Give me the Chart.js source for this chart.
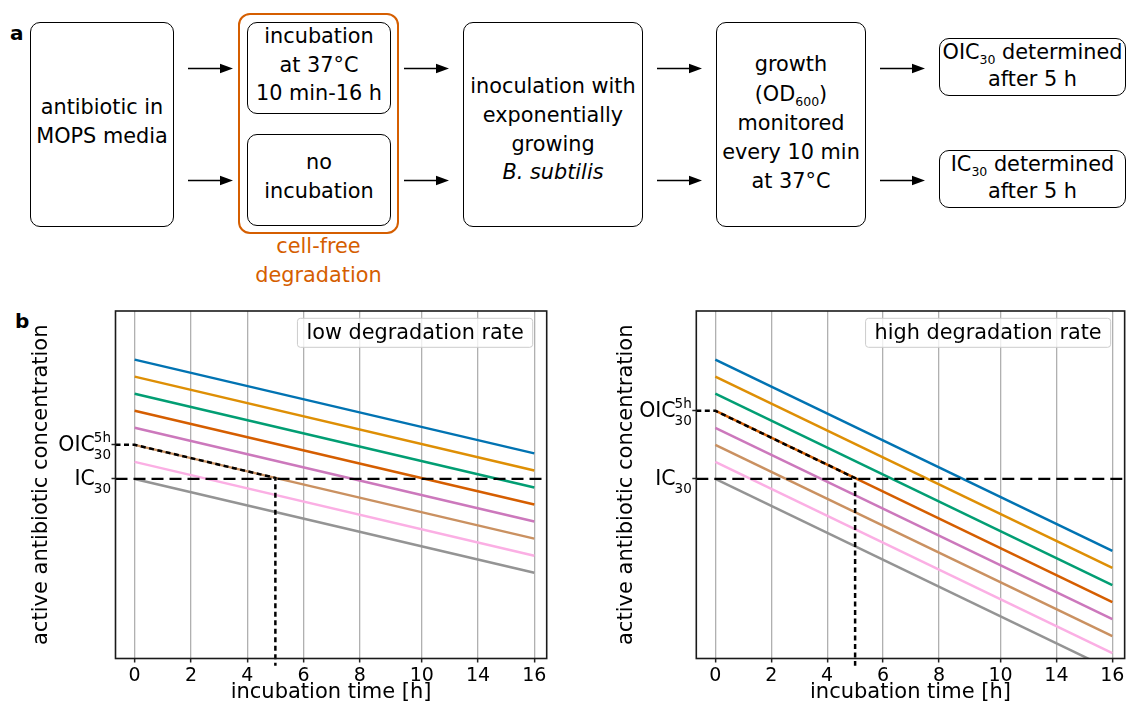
<!DOCTYPE html>
<html>
<head>
<meta charset="utf-8">
<script src="https://cdn.jsdelivr.net/npm/chart.js@4.4.1/dist/chart.umd.min.js"></script>
<style>
  html, body { margin: 0; padding: 0; background: #fff; }
  #page { position: relative; width: 1127px; height: 707px; overflow: hidden; background: #fff;
          font-family: 'DejaVu Sans', sans-serif; color: #000; }
  .box { position: absolute; box-sizing: border-box; border: 1.5px solid #000; border-radius: 10px;
         display: flex; align-items: center; justify-content: center; text-align: center;
         font-size: 20.8px; line-height: 28.7px; white-space: nowrap; padding-bottom: 6px; }
  .box sub { font-size: 12.5px; line-height: 0; vertical-align: -5px; }
  .frame { position: absolute; box-sizing: border-box; border: 2.3px solid #D55E00; border-radius: 12px; }
  .caption { position: absolute; text-align: center; color: #D55E00; font-size: 20.8px; line-height: 28.5px; white-space: nowrap; }
  .letter { position: absolute; font-weight: bold; font-size: 20px; line-height: 20px; }
  canvas { position: absolute; }
</style>
</head>
<body>
<div id="page">
  <!-- panel a: workflow -->
  <div class="letter" style="left:10px;top:23px">a</div>
  <div class="box" style="left:30px;top:22px;width:144px;height:205px"><div>antibiotic in<br>MOPS media</div></div>
  <div class="frame" style="left:238px;top:13px;width:161px;height:221px"></div>
  <div class="box" style="left:247px;top:22px;width:144px;height:92px"><div>incubation<br>at 37°C<br>10 min-16 h</div></div>
  <div class="box" style="left:247px;top:134px;width:144px;height:92px"><div>no<br>incubation</div></div>
  <div class="caption" style="left:238px;top:232px;width:161px">cell-free<br>degradation</div>
  <div class="box" style="left:463px;top:22px;width:180px;height:205px;padding-bottom:0;padding-top:10px"><div>inoculation with<br>exponentially<br>growing<br><i>B. subtilis</i></div></div>
  <div class="box" style="left:716px;top:22px;width:150px;height:205px;line-height:29.2px;padding-bottom:2px"><div>growth<br>(OD<sub>600</sub>)<br>monitored<br>every 10 min<br>at 37°C</div></div>
  <div class="box" style="left:939px;top:38px;width:187px;height:58px;padding-bottom:2px;line-height:27px"><div>OIC<sub>30</sub> determined<br>after 5 h</div></div>
  <div class="box" style="left:939px;top:150px;width:187px;height:58px;padding-bottom:2px;line-height:27px"><div>IC<sub>30</sub> determined<br>after 5 h</div></div>
  <svg id="arrows" width="1127" height="240" style="position:absolute;left:0;top:0"></svg>

  <!-- panel b: degradation sketches -->
  <div class="letter" style="left:15px;top:311px">b</div>
  <canvas id="lowRate" width="560" height="407" style="left:0;top:300px"></canvas>
  <canvas id="highRate" width="567" height="407" style="left:560px;top:300px"></canvas>
</div>

<script>
// ---- data ----
const timeTickLabels = ['0', '2', '4', '6', '8', '10', '14', '16'];
const timeTickValues = [0, 2, 4, 6, 8, 10.2, 12.2, 14.2];
const seriesColors = ['#0173B2', '#DE8F05', '#029E73', '#D55E00', '#CC78BC', '#CA9161', '#FBAFE4', '#949494'];
const startLevels = [17, 16, 15, 14, 13, 12, 11, 10];
const lowRateEndLevels = [11.5, 10.5, 9.5, 8.5, 7.5, 6.5, 5.5, 4.5];
const highRateEndLevels = [5.78, 4.78, 3.78, 2.78, 1.78, 0.78, -0.22, -1.22];
const ic30Level = 10;
const readoutTime = 5;
const lowRateOicSeries = 5;
const highRateOicSeries = 3;
const xLimits = [-0.68, 14.64];
const yLimits = [-0.53, 19.85];

// ---- workflow arrows ----
(function drawArrows() {
  const svg = document.getElementById('arrows');
  const rows = [68.5, 180.5];
  const spans = [[188, 233], [404, 449], [657, 702], [880, 925]];
  let html = '';
  rows.forEach(y => spans.forEach(([x1, x2]) => {
    html += `<line x1="${x1}" y1="${y}" x2="${x2 - 10}" y2="${y}" stroke="#000" stroke-width="1.6"/>`;
    html += `<polygon points="${x2},${y} ${x2 - 13},${y - 4.7} ${x2 - 13},${y + 4.7}" fill="#000"/>`;
  }));
  svg.innerHTML = html;
})();

// ---- chart decoration: spines, math tick labels, text box ----
function drawMathLabel(ctx, xr, y, main, sup, sub) {
  ctx.save();
  ctx.fillStyle = '#000';
  ctx.textBaseline = 'alphabetic';
  ctx.font = '13.5px "DejaVu Sans"';
  const wSup = sup ? ctx.measureText(sup).width : 0;
  const wSub = ctx.measureText(sub).width;
  const sx = xr - Math.max(wSup, wSub);
  ctx.textAlign = 'left';
  if (sup) ctx.fillText(sup, sx, y - 3);
  ctx.fillText(sub, sx, y + 14);
  ctx.font = '20.5px "DejaVu Sans"';
  ctx.textAlign = 'right';
  ctx.fillText(main, sx + 1, y + 6.5);
  ctx.restore();
}

const panelDecor = {
  id: 'panelDecor',
  afterDraw(chart, args, opts) {
    const { ctx, chartArea: ca, scales } = chart;
    // frame
    ctx.save();
    ctx.strokeStyle = '#1a1a1a';
    ctx.lineWidth = 1.6;
    ctx.strokeRect(ca.left, ca.top, ca.right - ca.left, ca.bottom - ca.top);
    ctx.restore();
    // y tick labels
    const xr = ca.left - 4.5;
    drawMathLabel(ctx, xr, scales.y.getPixelForValue(opts.oicLevel), 'OIC', '5h', '30');
    drawMathLabel(ctx, xr, scales.y.getPixelForValue(ic30Level), 'IC', null, '30');
    // text box in the upper right corner
    ctx.save();
    ctx.font = '20.8px "DejaVu Sans"';
    const tw = ctx.measureText(opts.boxText).width;
    const padX = 9, h = 29;
    const right = ca.right - 14;
    const left = right - tw - 2 * padX;
    const top = ca.top + 7.3;
    ctx.beginPath();
    ctx.roundRect(left, top, right - left, h, 3);
    ctx.fillStyle = 'rgba(255,255,255,0.8)';
    ctx.fill();
    ctx.strokeStyle = '#cccccc';
    ctx.lineWidth = 1;
    ctx.stroke();
    ctx.fillStyle = '#000';
    ctx.textBaseline = 'middle';
    ctx.textAlign = 'left';
    ctx.fillText(opts.boxText, left + padX, top + h / 2 + 1);
    ctx.restore();
  }
};

Chart.defaults.font.family = "'DejaVu Sans', sans-serif";
Chart.defaults.color = '#000';

function buildPanel(canvasId, endLevels, oicSeries, boxText, yAxisWidth, yTitlePad, padRight) {
  const tEnd = timeTickValues[timeTickValues.length - 1];
  const datasets = startLevels.map((s, i) => ({
    data: [{ x: 0, y: s }, { x: tEnd, y: endLevels[i] }],
    borderColor: seriesColors[i],
    borderWidth: 2.5,
    pointRadius: 0,
    order: 3
  }));
  const oicLevel = startLevels[oicSeries];
  const levelAtReadout = oicLevel + (endLevels[oicSeries] - oicLevel) * readoutTime / tEnd;
  datasets.push({
    data: [{ x: xLimits[0], y: ic30Level }, { x: xLimits[1], y: ic30Level }],
    borderColor: '#000', borderWidth: 2.3, borderDash: [12, 6], pointRadius: 0, order: 2
  });
  datasets.push({
    data: [{ x: xLimits[0], y: oicLevel }, { x: 0, y: oicLevel },
           { x: readoutTime, y: levelAtReadout }, { x: readoutTime, y: yLimits[0] - 0.42 }],
    borderColor: '#000', borderWidth: 2.5, borderDash: [5, 3.5], pointRadius: 0, order: 1,
    clip: { left: 0, top: 0, right: 0, bottom: 10 }
  });

  return new Chart(document.getElementById(canvasId), {
    type: 'line',
    data: { datasets },
    plugins: [panelDecor],
    options: {
      responsive: false,
      animation: false,
      devicePixelRatio: 1,
      layout: { padding: { top: 11, right: padRight, bottom: 0, left: 0 } },
      plugins: {
        legend: { display: false },
        tooltip: { enabled: false },
        panelDecor: { oicLevel, boxText }
      },
      scales: {
        x: {
          type: 'linear', bounds: 'data', min: xLimits[0], max: xLimits[1],
          afterBuildTicks: s => { s.ticks = timeTickValues.map(v => ({ value: v })); },
          afterFit: s => { s.height = 48.5; },
          ticks: { callback: (v, i) => timeTickLabels[i], font: { size: 19 }, color: '#000',
                   padding: 2.5, maxRotation: 0, autoSkip: false },
          grid: { color: '#b0b0b0', lineWidth: 1.3, drawTicks: true, tickLength: 4,
                  tickColor: '#222', tickWidth: 1.5 },
          border: { display: false },
          title: { display: true, text: 'incubation time [h]', font: { size: 21 }, color: '#000',
                   padding: { top: 0, bottom: 1.5 } }
        },
        y: {
          type: 'linear', bounds: 'data', min: yLimits[0], max: yLimits[1],
          afterBuildTicks: s => { s.ticks = [{ value: oicLevel }, { value: ic30Level }]; },
          afterFit: s => { s.width = yAxisWidth; },
          ticks: { display: false },
          grid: { drawOnChartArea: false, drawTicks: true, tickLength: 4, tickColor: '#222', tickWidth: 1.5 },
          border: { display: false },
          title: { display: true, text: 'active antibiotic concentration', font: { size: 21 }, color: '#000',
                   padding: { top: yTitlePad, bottom: 0 } }
        }
      }
    }
  });
}

buildPanel('lowRate', lowRateEndLevels, lowRateOicSeries, 'low degradation rate', 115.5, 29.4, 13.3);
buildPanel('highRate', highRateEndLevels, highRateOicSeries, 'high degradation rate', 136.3, 54.3, 2.2);
</script>
</body>
</html>
